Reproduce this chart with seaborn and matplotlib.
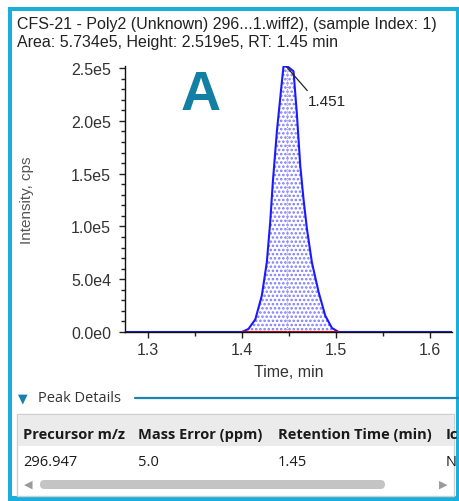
import matplotlib
matplotlib.use("Agg")
import matplotlib.pyplot as plt
import matplotlib.ticker as mticker
from matplotlib.patches import Rectangle, FancyBboxPatch
import numpy as np
import pandas as pd
import seaborn as sns

# chromatogram trace
time_min = [1.276, 1.3997, 1.4067, 1.414, 1.4209, 1.4262, 1.4298, 1.4326, 1.4369,
            1.4422, 1.444, 1.449, 1.4546, 1.4582, 1.4617, 1.4652, 1.4688, 1.4741,
            1.4812, 1.4883, 1.4954, 1.5025, 1.623]
intensity = [0, 0, 2.9e3, 1.2e4, 3.45e4, 6.6e4, 1.04e5, 1.42e5, 1.9e5,
             2.37e5, 2.519e5, 2.51e5, 2.47e5, 2.06e5, 1.58e5, 1.26e5, 9.8e4, 6.6e4,
             3.8e4, 1.55e4, 3.8e3, 0, 0]
peak_start, peak_end = 1.3997, 1.5025
peak_rt = 1.448
peak_height = 2.519e5
rt_label = "1.451"

header_lines = ["CFS-21 - Poly2 (Unknown) 296...1.wiff2), (sample Index: 1)",
                "Area: 5.734e5, Height: 2.519e5, RT: 1.45 min"]
table_cols = ["Precursor m/z", "Mass Error (ppm)", "Retention Time (min)", "Ic"]
table_row = ["296.947", "5.0", "1.45", "N"]

sns.set_style("ticks")
plt.rcParams["font.family"] = ["Liberation Sans", "DejaVu Sans"]

W, H = 459, 502
fig = plt.figure(figsize=(W / 100, H / 100), dpi=100)

def fx(px):
    return px / W

def fy(py):
    return 1 - py / H

df = pd.DataFrame({"Time": time_min, "Intensity": intensity})

# main chromatogram axes
ax = fig.add_axes([fx(125), fy(333), fx(452) - fx(125), fy(67) - fy(333)])
plt.rcParams["hatch.linewidth"] = 1.2
mask = (df.Time >= peak_start) & (df.Time <= peak_end)
ax.fill_between(df.Time[mask], 0, df.Intensity[mask], facecolor="white",
                hatch="....", edgecolor="#7a7aff", linewidth=0)
sns.lineplot(data=df, x="Time", y="Intensity", ax=ax, color="#1a1aff",
             linewidth=1.5, estimator=None, sort=False)
ax.plot([peak_start, peak_end], [0, 0], color="#e00000", linewidth=2.2,
        solid_capstyle="butt")
ax.plot([peak_rt, peak_rt], [0, peak_height], color="#f08a8a", linewidth=0.8,
        linestyle=(0, (1, 1)))
ax.annotate(rt_label, xy=(1.4465, peak_height), xytext=(1.4702, 2.19e5),
            fontsize=11, color="#222222", va="center", ha="left",
            arrowprops=dict(arrowstyle="-", color="#222222", lw=0.9,
                            shrinkA=0, shrinkB=1, relpos=(0.05, 1.0)))

ax.set_xlim(1.2755, 1.623)
ax.set_ylim(0, 2.52e5)
ax.xaxis.set_major_locator(mticker.MultipleLocator(0.1))
ax.xaxis.set_minor_locator(mticker.MultipleLocator(0.05))
ax.yaxis.set_major_locator(mticker.MultipleLocator(5e4))
ax.yaxis.set_minor_locator(mticker.MultipleLocator(1e4))

def sci(v, pos):
    if v == 0:
        return "0.0e0"
    e = int(np.floor(np.log10(abs(v))))
    return f"{v / 10 ** e:.1f}e{e}"

ax.yaxis.set_major_formatter(mticker.FuncFormatter(sci))
ax.xaxis.set_major_formatter(mticker.FormatStrFormatter("%.1f"))
ax.tick_params(which="major", length=4, width=1, labelsize=11.5,
               labelcolor="#333333", color="#222222")
ax.tick_params(axis="y", which="major", pad=6)
ax.tick_params(which="minor", length=3, width=1, color="#222222")
for s in ("top", "right"):
    ax.spines[s].set_visible(False)
for s in ("left", "bottom"):
    ax.spines[s].set_color("#111111")
    ax.spines[s].set_linewidth(1)
ax.set_xlabel("Time, min", fontsize=11.5, color="#333333", labelpad=5)
ax.set_ylabel("")
fig.text(fx(27), fy(200), "Intensity, cps", rotation=90, fontsize=11,
         color="#555555", ha="center", va="center")
ax.text(0.232, 0.89, "A", transform=ax.transAxes, fontsize=40,
        fontweight="bold", color="#127fa3", ha="center", va="center")

# overlay in pixel coordinates for the surrounding panel
ov = fig.add_axes([0, 0, 1, 1], zorder=-1)
ov.set_xlim(0, W)
ov.set_ylim(H, 0)
ov.axis("off")
cyan = "#1aaedb"
ov.add_patch(Rectangle((8, 8), 4, 492, color=cyan, lw=0))
ov.add_patch(Rectangle((8, 8), 451, 4, color=cyan, lw=0))
ov.add_patch(Rectangle((456, 8), 3, 494, color=cyan, lw=0))
ov.add_patch(Rectangle((8, 497), 451, 5, color=cyan, lw=0))

ov.text(17, 24, header_lines[0], fontsize=11.5, color="#222222", va="center")
ov.text(17, 43, header_lines[1], fontsize=11.5, color="#222222", va="center")

# peak details section
ov.text(18, 399, "\u25bc", fontsize=9, color="#1b7fa8", va="center",
        family="DejaVu Sans")
ov.text(38, 399, "Peak Details", fontsize=10.5, color="#333333", va="center",
        family="Open Sans")
ov.plot([135, 459], [399, 399], color="#1b87b0", lw=1.6)

ov.add_patch(Rectangle((17, 415), 437, 82, facecolor="white",
                       edgecolor="#cfcfcf", lw=1))
ov.add_patch(Rectangle((18, 416), 436, 31, facecolor="#ebebeb", lw=0))
col_x = [23, 138, 278, 446]
for x, c, v in zip(col_x, table_cols, table_row):
    ov.text(x, 435, c, fontsize=10.5, fontweight="bold", color="#1a1a1a",
            va="center", family="Open Sans")
    ov.text(x, 463, v, fontsize=10.5, color="#1a1a1a", va="center",
            family="Open Sans")
ov.add_patch(FancyBboxPatch((40, 481), 345, 9,
                            boxstyle="round,pad=0,rounding_size=4.5",
                            facecolor="#c4c4c4", edgecolor="none"))
ov.text(28, 485, "\u25c0", fontsize=8, color="#9a9a9a", va="center",
        ha="center", family="DejaVu Sans")
ov.text(443, 485, "\u25b6", fontsize=8, color="#9a9a9a", va="center",
        ha="center", family="DejaVu Sans")

fig.savefig("out.png", dpi=100, facecolor="white")
